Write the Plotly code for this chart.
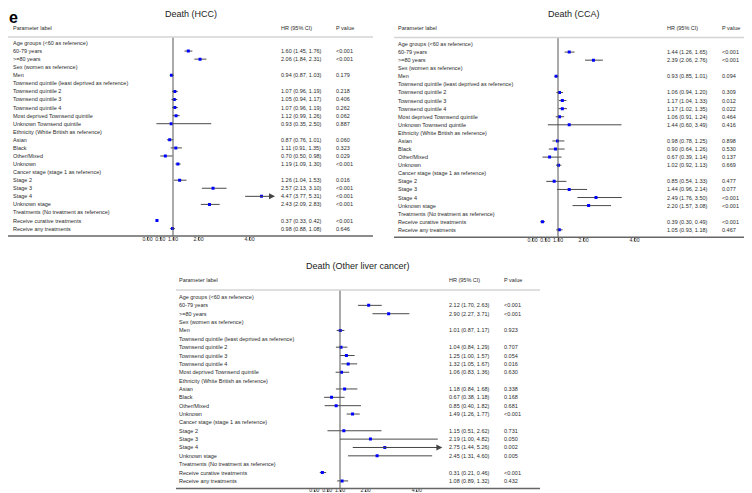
import plotly.graph_objects as go

W, H = 752, 493
FONT = "Liberation Sans, Arial, sans-serif"
TXT = "#2a2a2a"

# ---------------- data ----------------
LABELS_FULL = [
    "Age groups (<60 as reference)", "60-79 years", ">=80 years",
    "Sex (women as reference)", "Men",
    "Townsend quintile (least deprived as reference)", "Townsend quintile 2",
    "Townsend quintile 3", "Townsend quintile 4", "Most deprived Townsend quintile",
    "Unknown Townsend quintile",
    "Ethnicity (White British as reference)", "Asian", "Black", "Other/Mixed", "Unknown",
    "Cancer stage (stage 1 as reference)", "Stage 2", "Stage 3", "Stage 4", "Unknown stage",
    "Treatments (No treatment as reference)", "Receive curative treatments",
    "Receive any treatments",
]
LABELS_OTHER = [l for l in LABELS_FULL if l != "Unknown Townsend quintile"]

HCC_HR = [None, 1.60, 2.06, None, 0.94, None, 1.07, 1.05, 1.07, 1.12, 0.93, None,
          0.87, 1.11, 0.70, 1.19, None, 1.26, 2.57, 4.47, 2.43, None, 0.37, 0.98]
HCC_LO = [None, 1.45, 1.84, None, 0.87, None, 0.96, 0.94, 0.96, 0.99, 0.35, None,
          0.76, 0.91, 0.50, 1.09, None, 1.04, 2.13, 3.77, 2.09, None, 0.33, 0.88]
HCC_HI = [None, 1.76, 2.31, None, 1.03, None, 1.19, 1.17, 1.19, 1.26, 2.50, None,
          1.01, 1.35, 0.98, 1.30, None, 1.53, 3.10, 5.31, 2.83, None, 0.42, 1.08]
HCC_P = ["", "<0.001", "<0.001", "", "0.179", "", "0.218", "0.406", "0.262", "0.062", "0.887", "",
         "0.060", "0.323", "0.029", "<0.001", "", "0.016", "<0.001", "<0.001", "<0.001", "",
         "<0.001", "0.646"]

CCA_HR = [None, 1.44, 2.39, None, 0.93, None, 1.06, 1.17, 1.17, 1.06, 1.44, None,
          0.98, 0.90, 0.67, 1.02, None, 0.85, 1.44, 2.49, 2.20, None, 0.39, 1.05]
CCA_LO = [None, 1.26, 2.06, None, 0.85, None, 0.94, 1.04, 1.02, 0.91, 0.60, None,
          0.78, 0.64, 0.39, 0.92, None, 0.54, 0.96, 1.76, 1.57, None, 0.30, 0.93]
CCA_HI = [None, 1.65, 2.76, None, 1.01, None, 1.20, 1.33, 1.35, 1.24, 3.49, None,
          1.25, 1.26, 1.14, 1.13, None, 1.33, 2.14, 3.50, 3.08, None, 0.49, 1.18]
CCA_P = ["", "<0.001", "<0.001", "", "0.094", "", "0.309", "0.012", "0.022", "0.464", "0.416", "",
         "0.898", "0.530", "0.137", "0.669", "", "0.477", "0.077", "<0.001", "<0.001", "",
         "<0.001", "0.467"]

OTH_HR = [None, 2.12, 2.90, None, 1.01, None, 1.04, 1.25, 1.32, 1.06, None,
          1.18, 0.67, 0.85, 1.49, None, 1.15, 2.19, 2.75, 2.45, None, 0.31, 1.08]
OTH_LO = [None, 1.70, 2.27, None, 0.87, None, 0.84, 1.00, 1.05, 0.83, None,
          0.84, 0.38, 0.40, 1.26, None, 0.51, 1.00, 1.44, 1.31, None, 0.21, 0.89]
OTH_HI = [None, 2.63, 3.71, None, 1.17, None, 1.29, 1.57, 1.67, 1.36, None,
          1.68, 1.18, 1.82, 1.77, None, 2.62, 4.82, 5.26, 4.60, None, 0.46, 1.32]
OTH_P = ["", "<0.001", "<0.001", "", "0.923", "", "0.707", "0.054", "0.016", "0.630", "",
         "0.338", "0.168", "0.681", "<0.001", "", "0.731", "0.050", "0.002", "0.005", "",
         "<0.001", "0.432"]

TICK_VALS = [0, 0.5, 1, 2, 4]
TICK_TEXT = ["0.00", "0.50", "1.00", "2.00", "4.00"]
X_MIN, X_MAX = -0.3, 5.0

# ---------------- layout (pixels) ----------------
panels = [
    dict(title="Death (HCC)", labels=LABELS_FULL, hr=HCC_HR, lo=HCC_LO, hi=HCC_HI, p=HCC_P,
         x_label=4, x_hr=272, x_p=327, rule_x0=0, rule_x1=365, title_x=183, title_y=6,
         header_y=19.5, header_rule_y=29, bottom_y=228, row0=35, dy=8.07, ref_x=165, scale=25.5,
         standoff=-5),
    dict(title="Death (CCA)", labels=LABELS_FULL, hr=CCA_HR, lo=CCA_LO, hi=CCA_HI, p=CCA_P,
         x_label=389, x_hr=658, x_p=713, rule_x0=386, rule_x1=752, title_x=566, title_y=6,
         header_y=20, header_rule_y=29.5, bottom_y=229.3, row0=36, dy=8.08, ref_x=550, scale=25.5,
         standoff=-5),
    dict(title="Death (Other liver cancer)", labels=LABELS_OTHER, hr=OTH_HR, lo=OTH_LO, hi=OTH_HI, p=OTH_P,
         x_label=170, x_hr=440, x_p=495, rule_x0=168, rule_x1=532, title_x=350, title_y=257.7,
         header_y=272.3, header_rule_y=282, bottom_y=480.5, row0=289, dy=8.36, ref_x=332, scale=25.6,
         standoff=-6),
]

def px(x):
    return x / W

def py(y):
    return 1 - y / H

fig = go.Figure()
annotations = []
shapes = []
layout_axes = {}

for i, pn in enumerate(panels):
    k = "" if i == 0 else str(i + 1)
    xa, ya = "x" + k, "y" + k
    rows = list(range(len(pn["labels"])))

    # axes
    x0 = pn["ref_x"] + (X_MIN - 1) * pn["scale"]
    x1 = pn["ref_x"] + (X_MAX - 1) * pn["scale"]
    r_top = (pn["header_rule_y"] - pn["row0"]) / pn["dy"]
    r_bot = (pn["bottom_y"] - pn["row0"]) / pn["dy"]
    layout_axes["xaxis" + k] = dict(
        domain=[px(x0), px(x1)], range=[X_MIN, X_MAX], anchor=ya,
        showgrid=False, zeroline=False, showline=False,
        tickvals=TICK_VALS, ticktext=TICK_TEXT, ticks="outside", ticklen=2.5,
        tickwidth=1, tickcolor="#555", ticklabelstandoff=pn["standoff"],
        tickfont=dict(size=5.2, color=TXT, family=FONT),
    )
    layout_axes["yaxis" + k] = dict(
        domain=[py(pn["bottom_y"]), py(pn["header_rule_y"])], range=[r_bot, r_top],
        anchor=xa, visible=False, showgrid=False, zeroline=False,
    )

    # CI lines
    lx, ly = [], []
    for r, hr, lo, hi in zip(rows, pn["hr"], pn["lo"], pn["hi"]):
        if hr is None:
            continue
        if hi > X_MAX:
            annotations.append(dict(
                x=X_MAX, y=r, xref=xa, yref=ya, ax=lo, ay=r, axref=xa, ayref=ya,
                text="", showarrow=True, arrowhead=2, arrowsize=1.2, arrowwidth=1,
                arrowcolor="#444", standoff=0, startstandoff=0))
            continue
        lx += [lo, hi, None]
        ly += [r, r, None]
    fig.add_trace(go.Scatter(x=lx, y=ly, xaxis=xa, yaxis=ya, mode="lines",
                             line=dict(color="#4a4a4a", width=1), hoverinfo="skip",
                             showlegend=False))
    fig.add_trace(go.Scatter(x=pn["hr"], y=rows, xaxis=xa, yaxis=ya, mode="markers",
                             marker=dict(symbol="square", size=3, color="#0000ff"),
                             showlegend=False))

    # reference line at HR = 1
    shapes.append(dict(type="line", xref=xa, yref=ya + " domain", x0=1, x1=1, y0=0, y1=1,
                       line=dict(color="#555", width=1)))
    # header rule and bottom rule
    shapes.append(dict(type="line", xref="paper", yref="paper",
                       x0=px(pn["rule_x0"]), x1=px(pn["rule_x1"]),
                       y0=py(pn["header_rule_y"]), y1=py(pn["header_rule_y"]),
                       line=dict(color="#d4d4d4", width=1.5)))
    shapes.append(dict(type="line", xref="paper", yref="paper",
                       x0=px(pn["rule_x0"]), x1=px(pn["rule_x1"]),
                       y0=py(pn["bottom_y"]), y1=py(pn["bottom_y"]),
                       line=dict(color="#666", width=1.5)))

    # title and headers
    annotations.append(dict(text=pn["title"], x=px(pn["title_x"]), y=py(pn["title_y"]),
                            xref="paper", yref="paper", xanchor="center", yanchor="middle",
                            showarrow=False, borderpad=0,
                            font=dict(size=9, color="#222", family=FONT)))
    for txt, xx in [("Parameter label", pn["x_label"]), ("HR (95% CI)", pn["x_hr"]),
                    ("P value", pn["x_p"])]:
        annotations.append(dict(text=txt, x=px(xx), y=py(pn["header_y"]), xref="paper",
                                yref="paper", xanchor="left", yanchor="middle",
                                showarrow=False, borderpad=0,
                                font=dict(size=5.5, color=TXT, family=FONT)))

    # row texts
    for r, lab, hr, lo, hi, p in zip(rows, pn["labels"], pn["hr"], pn["lo"], pn["hi"], pn["p"]):
        annotations.append(dict(text=lab.replace("<", "&lt;"), x=px(pn["x_label"]), y=r,
                                xref="paper", yref=ya, xanchor="left", yanchor="middle",
                                showarrow=False, borderpad=0,
                                font=dict(size=5.5, color=TXT, family=FONT)))
        if hr is not None:
            annotations.append(dict(text=f"{hr:.2f} ({lo:.2f}, {hi:.2f})", x=px(pn["x_hr"]), y=r,
                                    xref="paper", yref=ya, xanchor="left", yanchor="middle",
                                    showarrow=False, borderpad=0,
                                    font=dict(size=5.5, color=TXT, family=FONT)))
            annotations.append(dict(text=p.replace("<", "&lt;"), x=px(pn["x_p"]), y=r,
                                    xref="paper", yref=ya, xanchor="left", yanchor="middle",
                                    showarrow=False, borderpad=0,
                                    font=dict(size=5.5, color=TXT, family=FONT)))

# panel letter
annotations.append(dict(text="<b>e</b>", x=0, y=1.0, xref="paper", yref="paper",
                        xanchor="left", yanchor="top", showarrow=False, borderpad=0,
                        font=dict(size=16, color="#000", family=FONT)))

fig.update_layout(
    width=W, height=H, margin=dict(l=0, r=0, t=0, b=0),
    paper_bgcolor="white", plot_bgcolor="white",
    annotations=annotations, shapes=shapes, showlegend=False,
    **layout_axes,
)

fig.write_html("out.html")
